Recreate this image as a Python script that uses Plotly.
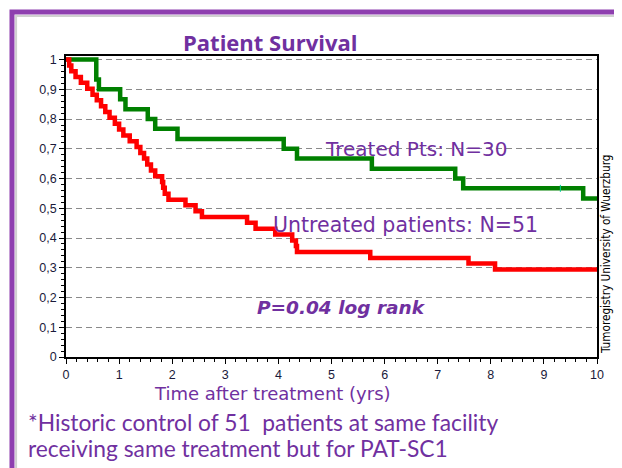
import plotly.graph_objects as go

# ---- data ----
treated_t = [0.0, 0.57, 0.62, 1.02, 1.12, 1.54, 1.68, 2.10, 4.10, 4.35, 5.76, 7.33, 7.48, 9.74, 10.0]
treated_s = [1.0, 0.933, 0.900, 0.867, 0.833, 0.800, 0.767, 0.733, 0.700, 0.667, 0.633, 0.600, 0.567, 0.533, 0.533]
treated_censor_t = [9.31]
treated_censor_s = [0.567]

untreated_t = [0.0, 0.06, 0.10, 0.18, 0.28, 0.40, 0.50, 0.58, 0.66, 0.74, 0.82, 0.92, 1.00, 1.08,
               1.20, 1.33, 1.40, 1.47, 1.53, 1.60, 1.68, 1.81, 1.83, 1.86, 1.93, 2.25, 2.44, 2.56,
               3.41, 3.57, 3.94, 4.26, 4.33, 4.35, 5.73, 7.58, 8.08, 10.0]
untreated_s = [1.0, 0.980, 0.961, 0.941, 0.922, 0.902, 0.882, 0.863, 0.843, 0.824, 0.804, 0.784, 0.765, 0.745,
               0.725, 0.706, 0.686, 0.667, 0.647, 0.627, 0.608, 0.588, 0.569, 0.549, 0.529, 0.510, 0.490, 0.471,
               0.451, 0.431, 0.412, 0.392, 0.373, 0.353, 0.333, 0.314, 0.294, 0.294]

y_tick_vals = [0, 0.1, 0.2, 0.3, 0.4, 0.5, 0.6, 0.7, 0.8, 0.9, 1.0]
y_tick_text = ["0", "0,1", "0,2", "0,3", "0,4", "0,5", "0,6", "0,7", "0,8", "0,9", "1"]
x_tick_vals = [0, 1, 2, 3, 4, 5, 6, 7, 8, 9, 10]

PURPLE = "#7030A0"
GREEN = "#008000"
RED = "#FF0000"

fig = go.Figure()
fig.add_trace(go.Scatter(x=treated_t, y=treated_s, mode="lines", line=dict(color=GREEN, width=4.5, shape="hv"),
                         showlegend=False, hoverinfo="skip"))
fig.add_trace(go.Scatter(x=untreated_t, y=untreated_s, mode="lines", line=dict(color=RED, width=4.5, shape="hv"),
                         showlegend=False, hoverinfo="skip"))
fig.add_trace(go.Scatter(x=treated_censor_t, y=treated_censor_s, mode="markers",
                         marker=dict(symbol="line-ns-open", size=5, line=dict(color="#d0d0d0", width=1)),
                         showlegend=False, hoverinfo="skip"))

tickfont = dict(family="Liberation Sans, Arial", size=12.5, color="#1a1a3a")
fig.update_xaxes(range=[0, 10], tickvals=x_tick_vals, showgrid=False, zeroline=False,
                 showline=True, linecolor="black", linewidth=1.5, mirror=True,
                 ticks="outside", ticklen=5, tickcolor="black",
                 minor=dict(dtick=0.2, ticks="outside", ticklen=3, tickcolor="black", showgrid=False),
                 tickfont=tickfont)
fig.update_yaxes(range=[0, 1.012], tickvals=y_tick_vals, ticktext=y_tick_text,
                 showgrid=True, gridcolor="#8a8a8a", gridwidth=1, griddash="6px,4px", zeroline=False,
                 showline=True, linecolor="black", linewidth=1.5, mirror=True,
                 ticks="outside", ticklen=5, tickcolor="black",
                 minor=dict(dtick=0.02, ticks="outside", ticklen=3, tickcolor="black", showgrid=False),
                 tickfont=tickfont)

ann = []
ann.append(dict(text="<b>Patient Survival</b>", xref="paper", yref="paper", x=0.384, y=1.0465,
                xanchor="center", yanchor="middle", showarrow=False,
                font=dict(family="Open Sans", size=22, color=PURPLE)))
ann.append(dict(text="Treated Pts: N=30", x=6.6, y=0.70, xanchor="center", yanchor="middle", showarrow=False,
                font=dict(family="DejaVu Sans", size=20, color=PURPLE)))
ann.append(dict(text="Untreated patients: N=51", x=6.39, y=0.443, xanchor="center", yanchor="middle", showarrow=False,
                font=dict(family="DejaVu Sans", size=20.5, color=PURPLE)))
ann.append(dict(text="<b><i>P=0.04 log rank</i></b>", x=5.19, y=0.166, xanchor="center", yanchor="middle",
                showarrow=False, font=dict(family="DejaVu Sans", size=18.5, color=PURPLE)))
ann.append(dict(text="Tumoregistry University of Wuerzburg", xref="paper", yref="paper", x=1.017, y=0.342,
                xanchor="center", yanchor="middle", textangle=-90, showarrow=False,
                font=dict(family="DejaVu Sans Condensed, DejaVu Sans", size=11.7, color="black")))
ann.append(dict(text="Time after treatment (yrs)", xref="paper", yref="paper", x=0.388, y=-0.12,
                xanchor="center", yanchor="middle", showarrow=False,
                font=dict(family="DejaVu Sans", size=18, color=PURPLE)))
ann.append(dict(text="*Historic control of 51  patients at same facility", xref="paper", yref="paper",
                x=-0.075, y=-0.2146, xanchor="left", yanchor="middle", showarrow=False,
                font=dict(family="Lato", size=22.8, color=PURPLE)))
ann.append(dict(text="receiving same treatment but for PAT-SC1", xref="paper", yref="paper",
                x=-0.075, y=-0.303, xanchor="left", yanchor="middle", showarrow=False,
                font=dict(family="Lato", size=22.8, color=PURPLE)))

shapes = [
    dict(type="rect", xref="paper", yref="paper", x0=-0.094, y0=-0.46, x1=1.10, y1=1.133,
         line=dict(color="#d0d0d0", width=2), layer="below"),
    dict(type="rect", xref="paper", yref="paper", x0=-0.1017, y0=-0.46, x1=1.10, y1=1.1462,
         line=dict(color="#8E3FAF", width=5), layer="above"),
]

# the page puts the figure 8px in from the window edge; margins compensate
fig.update_layout(width=622, height=468, margin=dict(l=58, r=33, t=48, b=119),
                  paper_bgcolor="white", plot_bgcolor="white",
                  annotations=ann, shapes=shapes, showlegend=False)

fig.write_html("out.html")
